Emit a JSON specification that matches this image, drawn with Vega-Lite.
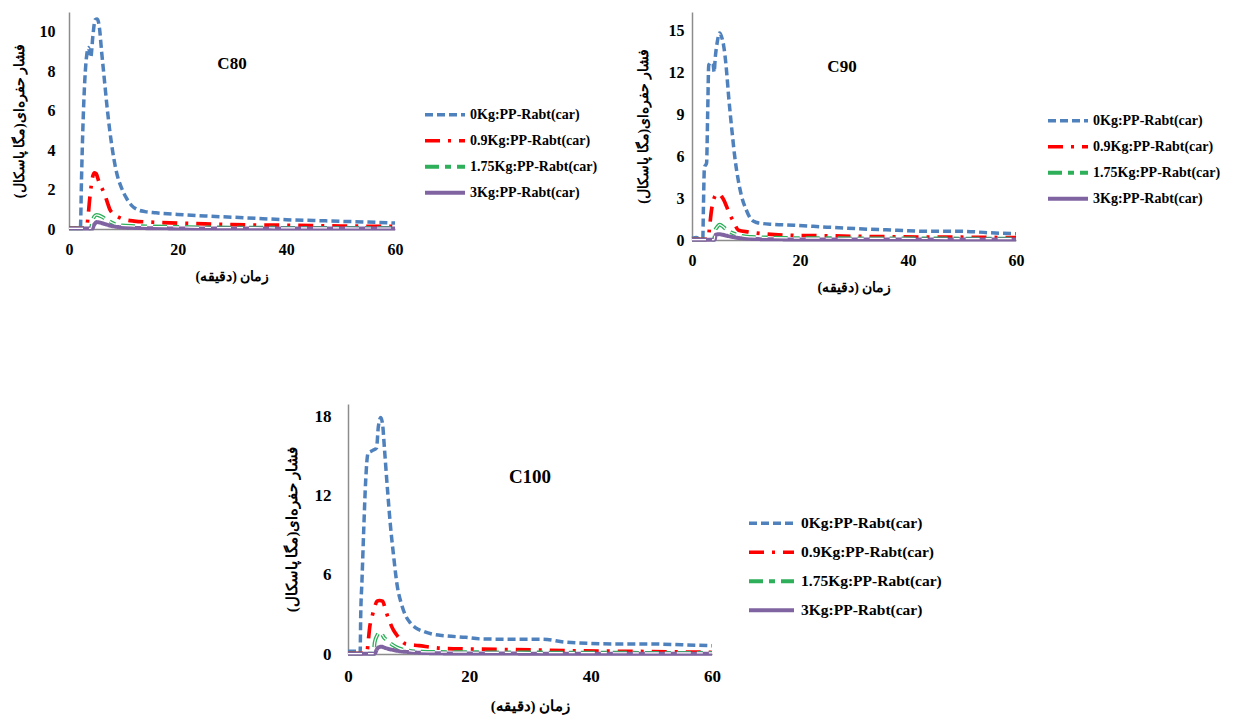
{
 "$schema": "https://vega.github.io/schema/vega-lite/v6.json",
 "background": "white",
 "padding": {"left": 12, "top": 11, "right": 5, "bottom": 5},
 "config": {
  "view": {"stroke": null},
  "axis": {"grid": false, "ticks": false, "labelFlush": false, "domainColor": "#8c8c8c", "domainWidth": 1.5, "labelFont": "Liberation Serif", "labelFontWeight": "bold", "labelFontSize": 16, "labelColor": "black", "titleFont": "Liberation Serif", "titleFontWeight": "bold", "titleFontSize": 14, "titleColor": "black"},
  "legend": {"labelFont": "Liberation Serif", "labelFontWeight": "bold", "labelColor": "black"},
  "title": {"font": "Liberation Serif", "fontWeight": "bold", "color": "black", "anchor": "middle", "frame": "group"}
 },
 "resolve": {"scale": {"color": "independent", "strokeDash": "independent", "strokeWidth": "independent"}, "legend": {"color": "independent", "strokeDash": "independent", "strokeWidth": "independent"}},
 "datasets": {
  "c80": [
   {"s":"0Kg:PP-Rabt(car)","t":0,"p":0.05},{"s":"0Kg:PP-Rabt(car)","t":2.1,"p":0.05},{"s":"0Kg:PP-Rabt(car)","t":2.3,"p":2.5},{"s":"0Kg:PP-Rabt(car)","t":2.6,"p":5.5},{"s":"0Kg:PP-Rabt(car)","t":2.9,"p":7.5},{"s":"0Kg:PP-Rabt(car)","t":3.3,"p":8.9},{"s":"0Kg:PP-Rabt(car)","t":3.6,"p":9.2},{"s":"0Kg:PP-Rabt(car)","t":4,"p":8.7},{"s":"0Kg:PP-Rabt(car)","t":4.4,"p":9.8},{"s":"0Kg:PP-Rabt(car)","t":4.8,"p":10.6},{"s":"0Kg:PP-Rabt(car)","t":5.2,"p":10.65},{"s":"0Kg:PP-Rabt(car)","t":5.6,"p":10.2},{"s":"0Kg:PP-Rabt(car)","t":6,"p":9},{"s":"0Kg:PP-Rabt(car)","t":6.5,"p":7.6},{"s":"0Kg:PP-Rabt(car)","t":7,"p":6.2},{"s":"0Kg:PP-Rabt(car)","t":7.5,"p":5},{"s":"0Kg:PP-Rabt(car)","t":8,"p":4},{"s":"0Kg:PP-Rabt(car)","t":8.5,"p":3.2},{"s":"0Kg:PP-Rabt(car)","t":9,"p":2.6},{"s":"0Kg:PP-Rabt(car)","t":9.5,"p":2.2},{"s":"0Kg:PP-Rabt(car)","t":10.5,"p":1.6},{"s":"0Kg:PP-Rabt(car)","t":11.5,"p":1.2},{"s":"0Kg:PP-Rabt(car)","t":12.5,"p":1.0},{"s":"0Kg:PP-Rabt(car)","t":14,"p":0.88},{"s":"0Kg:PP-Rabt(car)","t":16,"p":0.82},{"s":"0Kg:PP-Rabt(car)","t":20,"p":0.74},{"s":"0Kg:PP-Rabt(car)","t":25,"p":0.66},{"s":"0Kg:PP-Rabt(car)","t":30,"p":0.6},{"s":"0Kg:PP-Rabt(car)","t":35,"p":0.53},{"s":"0Kg:PP-Rabt(car)","t":40,"p":0.47},{"s":"0Kg:PP-Rabt(car)","t":45,"p":0.43},{"s":"0Kg:PP-Rabt(car)","t":50,"p":0.39},{"s":"0Kg:PP-Rabt(car)","t":55,"p":0.35},{"s":"0Kg:PP-Rabt(car)","t":60,"p":0.3},
   {"s":"0.9Kg:PP-Rabt(car)","t":0,"p":0.05},{"s":"0.9Kg:PP-Rabt(car)","t":3.2,"p":0.05},{"s":"0.9Kg:PP-Rabt(car)","t":3.5,"p":0.6},{"s":"0.9Kg:PP-Rabt(car)","t":3.8,"p":1.5},{"s":"0.9Kg:PP-Rabt(car)","t":4.1,"p":2.2},{"s":"0.9Kg:PP-Rabt(car)","t":4.4,"p":2.7},{"s":"0.9Kg:PP-Rabt(car)","t":4.7,"p":2.85},{"s":"0.9Kg:PP-Rabt(car)","t":5,"p":2.8},{"s":"0.9Kg:PP-Rabt(car)","t":5.5,"p":2.4},{"s":"0.9Kg:PP-Rabt(car)","t":6,"p":2.1},{"s":"0.9Kg:PP-Rabt(car)","t":6.5,"p":1.8},{"s":"0.9Kg:PP-Rabt(car)","t":7,"p":1.4},{"s":"0.9Kg:PP-Rabt(car)","t":7.5,"p":1.0},{"s":"0.9Kg:PP-Rabt(car)","t":8,"p":0.8},{"s":"0.9Kg:PP-Rabt(car)","t":9,"p":0.62},{"s":"0.9Kg:PP-Rabt(car)","t":10,"p":0.5},{"s":"0.9Kg:PP-Rabt(car)","t":12,"p":0.4},{"s":"0.9Kg:PP-Rabt(car)","t":15,"p":0.35},{"s":"0.9Kg:PP-Rabt(car)","t":20,"p":0.3},{"s":"0.9Kg:PP-Rabt(car)","t":25,"p":0.26},{"s":"0.9Kg:PP-Rabt(car)","t":30,"p":0.22},{"s":"0.9Kg:PP-Rabt(car)","t":40,"p":0.19},{"s":"0.9Kg:PP-Rabt(car)","t":50,"p":0.15},{"s":"0.9Kg:PP-Rabt(car)","t":60,"p":0.13},
   {"s":"1.75Kg:PP-Rabt(car)","t":0,"p":0.03},{"s":"1.75Kg:PP-Rabt(car)","t":4,"p":0.03},{"s":"1.75Kg:PP-Rabt(car)","t":4.3,"p":0.4},{"s":"1.75Kg:PP-Rabt(car)","t":4.7,"p":0.65},{"s":"1.75Kg:PP-Rabt(car)","t":5.1,"p":0.72},{"s":"1.75Kg:PP-Rabt(car)","t":5.6,"p":0.68},{"s":"1.75Kg:PP-Rabt(car)","t":6.2,"p":0.6},{"s":"1.75Kg:PP-Rabt(car)","t":7,"p":0.45},{"s":"1.75Kg:PP-Rabt(car)","t":7.7,"p":0.35},{"s":"1.75Kg:PP-Rabt(car)","t":8.5,"p":0.25},{"s":"1.75Kg:PP-Rabt(car)","t":9.5,"p":0.19},{"s":"1.75Kg:PP-Rabt(car)","t":12,"p":0.15},{"s":"1.75Kg:PP-Rabt(car)","t":15,"p":0.13},{"s":"1.75Kg:PP-Rabt(car)","t":20,"p":0.11},{"s":"1.75Kg:PP-Rabt(car)","t":25,"p":0.08},{"s":"1.75Kg:PP-Rabt(car)","t":40,"p":0.06},{"s":"1.75Kg:PP-Rabt(car)","t":60,"p":0.05},
   {"s":"3Kg:PP-Rabt(car)","t":0,"p":0.02},{"s":"3Kg:PP-Rabt(car)","t":4.3,"p":0.02},{"s":"3Kg:PP-Rabt(car)","t":4.6,"p":0.2},{"s":"3Kg:PP-Rabt(car)","t":5.1,"p":0.35},{"s":"3Kg:PP-Rabt(car)","t":5.6,"p":0.33},{"s":"3Kg:PP-Rabt(car)","t":6.5,"p":0.26},{"s":"3Kg:PP-Rabt(car)","t":7.5,"p":0.18},{"s":"3Kg:PP-Rabt(car)","t":8.5,"p":0.12},{"s":"3Kg:PP-Rabt(car)","t":10,"p":0.08},{"s":"3Kg:PP-Rabt(car)","t":13,"p":0.05},{"s":"3Kg:PP-Rabt(car)","t":20,"p":0.03},{"s":"3Kg:PP-Rabt(car)","t":60,"p":0.02}
  ],
  "c90": [
   {"s":"0Kg:PP-Rabt(car)","t":0,"p":0.12},{"s":"0Kg:PP-Rabt(car)","t":0.8,"p":0.18},{"s":"0Kg:PP-Rabt(car)","t":1.5,"p":0.05},{"s":"0Kg:PP-Rabt(car)","t":2,"p":0.05},{"s":"0Kg:PP-Rabt(car)","t":2.1,"p":2},{"s":"0Kg:PP-Rabt(car)","t":2.3,"p":5.2},{"s":"0Kg:PP-Rabt(car)","t":2.7,"p":5.5},{"s":"0Kg:PP-Rabt(car)","t":2.9,"p":9},{"s":"0Kg:PP-Rabt(car)","t":3.1,"p":12.5},{"s":"0Kg:PP-Rabt(car)","t":3.5,"p":12.7},{"s":"0Kg:PP-Rabt(car)","t":3.9,"p":12.6},{"s":"0Kg:PP-Rabt(car)","t":4.1,"p":12.0},{"s":"0Kg:PP-Rabt(car)","t":4.3,"p":13},{"s":"0Kg:PP-Rabt(car)","t":4.7,"p":14.2},{"s":"0Kg:PP-Rabt(car)","t":5.1,"p":14.8},{"s":"0Kg:PP-Rabt(car)","t":5.5,"p":14.5},{"s":"0Kg:PP-Rabt(car)","t":5.9,"p":13.8},{"s":"0Kg:PP-Rabt(car)","t":6.3,"p":12.5},{"s":"0Kg:PP-Rabt(car)","t":6.8,"p":10.2},{"s":"0Kg:PP-Rabt(car)","t":7.4,"p":7.8},{"s":"0Kg:PP-Rabt(car)","t":8,"p":5.7},{"s":"0Kg:PP-Rabt(car)","t":8.6,"p":4.2},{"s":"0Kg:PP-Rabt(car)","t":9.2,"p":3.1},{"s":"0Kg:PP-Rabt(car)","t":10,"p":2.2},{"s":"0Kg:PP-Rabt(car)","t":11,"p":1.45},{"s":"0Kg:PP-Rabt(car)","t":12,"p":1.25},{"s":"0Kg:PP-Rabt(car)","t":13,"p":1.18},{"s":"0Kg:PP-Rabt(car)","t":15,"p":1.12},{"s":"0Kg:PP-Rabt(car)","t":19,"p":1.05},{"s":"0Kg:PP-Rabt(car)","t":25,"p":0.92},{"s":"0Kg:PP-Rabt(car)","t":31,"p":0.8},{"s":"0Kg:PP-Rabt(car)","t":38,"p":0.7},{"s":"0Kg:PP-Rabt(car)","t":44,"p":0.62},{"s":"0Kg:PP-Rabt(car)","t":50,"p":0.62},{"s":"0Kg:PP-Rabt(car)","t":55,"p":0.52},{"s":"0Kg:PP-Rabt(car)","t":60,"p":0.45},
   {"s":"0.9Kg:PP-Rabt(car)","t":0,"p":0.05},{"s":"0.9Kg:PP-Rabt(car)","t":3,"p":0.05},{"s":"0.9Kg:PP-Rabt(car)","t":3.2,"p":0.7},{"s":"0.9Kg:PP-Rabt(car)","t":3.6,"p":2.1},{"s":"0.9Kg:PP-Rabt(car)","t":4.2,"p":3.1},{"s":"0.9Kg:PP-Rabt(car)","t":4.6,"p":3.27},{"s":"0.9Kg:PP-Rabt(car)","t":5,"p":3.3},{"s":"0.9Kg:PP-Rabt(car)","t":5.5,"p":3.1},{"s":"0.9Kg:PP-Rabt(car)","t":5.9,"p":2.85},{"s":"0.9Kg:PP-Rabt(car)","t":6.4,"p":2.4},{"s":"0.9Kg:PP-Rabt(car)","t":6.8,"p":2.0},{"s":"0.9Kg:PP-Rabt(car)","t":7.3,"p":1.6},{"s":"0.9Kg:PP-Rabt(car)","t":7.7,"p":1.3},{"s":"0.9Kg:PP-Rabt(car)","t":8.6,"p":0.7},{"s":"0.9Kg:PP-Rabt(car)","t":10.5,"p":0.57},{"s":"0.9Kg:PP-Rabt(car)","t":13,"p":0.45},{"s":"0.9Kg:PP-Rabt(car)","t":19,"p":0.33},{"s":"0.9Kg:PP-Rabt(car)","t":25,"p":0.3},{"s":"0.9Kg:PP-Rabt(car)","t":31,"p":0.26},{"s":"0.9Kg:PP-Rabt(car)","t":43,"p":0.21},{"s":"0.9Kg:PP-Rabt(car)","t":50,"p":0.2},{"s":"0.9Kg:PP-Rabt(car)","t":60,"p":0.17},
   {"s":"1.75Kg:PP-Rabt(car)","t":0,"p":0.03},{"s":"1.75Kg:PP-Rabt(car)","t":4.1,"p":0.03},{"s":"1.75Kg:PP-Rabt(car)","t":4.3,"p":0.7},{"s":"1.75Kg:PP-Rabt(car)","t":4.7,"p":0.95},{"s":"1.75Kg:PP-Rabt(car)","t":5.1,"p":1.1},{"s":"1.75Kg:PP-Rabt(car)","t":5.6,"p":1.0},{"s":"1.75Kg:PP-Rabt(car)","t":6.2,"p":0.8},{"s":"1.75Kg:PP-Rabt(car)","t":6.8,"p":0.65},{"s":"1.75Kg:PP-Rabt(car)","t":7.4,"p":0.52},{"s":"1.75Kg:PP-Rabt(car)","t":8.3,"p":0.38},{"s":"1.75Kg:PP-Rabt(car)","t":9.2,"p":0.29},{"s":"1.75Kg:PP-Rabt(car)","t":11,"p":0.22},{"s":"1.75Kg:PP-Rabt(car)","t":13,"p":0.19},{"s":"1.75Kg:PP-Rabt(car)","t":19,"p":0.14},{"s":"1.75Kg:PP-Rabt(car)","t":30,"p":0.12},{"s":"1.75Kg:PP-Rabt(car)","t":60,"p":0.1},
   {"s":"3Kg:PP-Rabt(car)","t":0,"p":0.02},{"s":"3Kg:PP-Rabt(car)","t":4.2,"p":0.02},{"s":"3Kg:PP-Rabt(car)","t":4.4,"p":0.38},{"s":"3Kg:PP-Rabt(car)","t":5,"p":0.42},{"s":"3Kg:PP-Rabt(car)","t":5.6,"p":0.38},{"s":"3Kg:PP-Rabt(car)","t":6.5,"p":0.3},{"s":"3Kg:PP-Rabt(car)","t":7.5,"p":0.22},{"s":"3Kg:PP-Rabt(car)","t":8.5,"p":0.15},{"s":"3Kg:PP-Rabt(car)","t":10,"p":0.1},{"s":"3Kg:PP-Rabt(car)","t":13,"p":0.06},{"s":"3Kg:PP-Rabt(car)","t":20,"p":0.04},{"s":"3Kg:PP-Rabt(car)","t":60,"p":0.03}
  ],
  "c100": [
   {"s":"0Kg:PP-Rabt(car)","t":0,"p":0.2},{"s":"0Kg:PP-Rabt(car)","t":1.5,"p":0.2},{"s":"0Kg:PP-Rabt(car)","t":1.8,"p":0.02},{"s":"0Kg:PP-Rabt(car)","t":2,"p":0.1},{"s":"0Kg:PP-Rabt(car)","t":2.1,"p":3},{"s":"0Kg:PP-Rabt(car)","t":2.3,"p":5.5},{"s":"0Kg:PP-Rabt(car)","t":2.6,"p":9.5},{"s":"0Kg:PP-Rabt(car)","t":2.9,"p":13},{"s":"0Kg:PP-Rabt(car)","t":3.3,"p":15.2},{"s":"0Kg:PP-Rabt(car)","t":4,"p":15.4},{"s":"0Kg:PP-Rabt(car)","t":4.7,"p":15.6},{"s":"0Kg:PP-Rabt(car)","t":5,"p":17.2},{"s":"0Kg:PP-Rabt(car)","t":5.4,"p":17.9},{"s":"0Kg:PP-Rabt(car)","t":5.7,"p":17.4},{"s":"0Kg:PP-Rabt(car)","t":6,"p":15.6},{"s":"0Kg:PP-Rabt(car)","t":6.5,"p":12.5},{"s":"0Kg:PP-Rabt(car)","t":7,"p":9.7},{"s":"0Kg:PP-Rabt(car)","t":7.5,"p":7.5},{"s":"0Kg:PP-Rabt(car)","t":8.1,"p":5.2},{"s":"0Kg:PP-Rabt(car)","t":8.8,"p":3.8},{"s":"0Kg:PP-Rabt(car)","t":9.5,"p":2.9},{"s":"0Kg:PP-Rabt(car)","t":10.3,"p":2.35},{"s":"0Kg:PP-Rabt(car)","t":11.1,"p":2.0},{"s":"0Kg:PP-Rabt(car)","t":12.5,"p":1.7},{"s":"0Kg:PP-Rabt(car)","t":13.9,"p":1.5},{"s":"0Kg:PP-Rabt(car)","t":16,"p":1.38},{"s":"0Kg:PP-Rabt(car)","t":19.4,"p":1.26},{"s":"0Kg:PP-Rabt(car)","t":22,"p":1.14},{"s":"0Kg:PP-Rabt(car)","t":27,"p":1.12},{"s":"0Kg:PP-Rabt(car)","t":32,"p":1.12},{"s":"0Kg:PP-Rabt(car)","t":35.8,"p":0.9},{"s":"0Kg:PP-Rabt(car)","t":40,"p":0.8},{"s":"0Kg:PP-Rabt(car)","t":44,"p":0.76},{"s":"0Kg:PP-Rabt(car)","t":50,"p":0.76},{"s":"0Kg:PP-Rabt(car)","t":55,"p":0.7},{"s":"0Kg:PP-Rabt(car)","t":60,"p":0.63},
   {"s":"0.9Kg:PP-Rabt(car)","t":0,"p":0.05},{"s":"0.9Kg:PP-Rabt(car)","t":3.1,"p":0.05},{"s":"0.9Kg:PP-Rabt(car)","t":3.3,"p":0.8},{"s":"0.9Kg:PP-Rabt(car)","t":3.6,"p":2.1},{"s":"0.9Kg:PP-Rabt(car)","t":4,"p":2.9},{"s":"0.9Kg:PP-Rabt(car)","t":4.3,"p":3.4},{"s":"0.9Kg:PP-Rabt(car)","t":4.8,"p":4.0},{"s":"0.9Kg:PP-Rabt(car)","t":5.2,"p":4.05},{"s":"0.9Kg:PP-Rabt(car)","t":5.7,"p":4.0},{"s":"0.9Kg:PP-Rabt(car)","t":6.1,"p":3.5},{"s":"0.9Kg:PP-Rabt(car)","t":6.5,"p":2.9},{"s":"0.9Kg:PP-Rabt(car)","t":7,"p":2.3},{"s":"0.9Kg:PP-Rabt(car)","t":7.5,"p":1.8},{"s":"0.9Kg:PP-Rabt(car)","t":8.1,"p":1.4},{"s":"0.9Kg:PP-Rabt(car)","t":8.8,"p":1.0},{"s":"0.9Kg:PP-Rabt(car)","t":9.5,"p":0.76},{"s":"0.9Kg:PP-Rabt(car)","t":11.7,"p":0.63},{"s":"0.9Kg:PP-Rabt(car)","t":15.5,"p":0.43},{"s":"0.9Kg:PP-Rabt(car)","t":20,"p":0.38},{"s":"0.9Kg:PP-Rabt(car)","t":27.6,"p":0.33},{"s":"0.9Kg:PP-Rabt(car)","t":36,"p":0.25},{"s":"0.9Kg:PP-Rabt(car)","t":46.8,"p":0.2},{"s":"0.9Kg:PP-Rabt(car)","t":60,"p":0.13},
   {"s":"1.75Kg:PP-Rabt(car)","t":0,"p":0.03},{"s":"1.75Kg:PP-Rabt(car)","t":4.2,"p":0.03},{"s":"1.75Kg:PP-Rabt(car)","t":4.4,"p":0.88},{"s":"1.75Kg:PP-Rabt(car)","t":4.8,"p":1.4},{"s":"1.75Kg:PP-Rabt(car)","t":5.2,"p":1.64},{"s":"1.75Kg:PP-Rabt(car)","t":5.6,"p":1.5},{"s":"1.75Kg:PP-Rabt(car)","t":5.9,"p":1.26},{"s":"1.75Kg:PP-Rabt(car)","t":6.4,"p":1.05},{"s":"1.75Kg:PP-Rabt(car)","t":6.8,"p":0.88},{"s":"1.75Kg:PP-Rabt(car)","t":7.6,"p":0.62},{"s":"1.75Kg:PP-Rabt(car)","t":8.4,"p":0.43},{"s":"1.75Kg:PP-Rabt(car)","t":9.5,"p":0.3},{"s":"1.75Kg:PP-Rabt(car)","t":11.1,"p":0.2},{"s":"1.75Kg:PP-Rabt(car)","t":15,"p":0.15},{"s":"1.75Kg:PP-Rabt(car)","t":22,"p":0.13},{"s":"1.75Kg:PP-Rabt(car)","t":40,"p":0.1},{"s":"1.75Kg:PP-Rabt(car)","t":60,"p":0.08},
   {"s":"3Kg:PP-Rabt(car)","t":0,"p":0.02},{"s":"3Kg:PP-Rabt(car)","t":4.4,"p":0.02},{"s":"3Kg:PP-Rabt(car)","t":4.7,"p":0.3},{"s":"3Kg:PP-Rabt(car)","t":5,"p":0.5},{"s":"3Kg:PP-Rabt(car)","t":5.5,"p":0.55},{"s":"3Kg:PP-Rabt(car)","t":6.2,"p":0.45},{"s":"3Kg:PP-Rabt(car)","t":7.5,"p":0.3},{"s":"3Kg:PP-Rabt(car)","t":8.7,"p":0.2},{"s":"3Kg:PP-Rabt(car)","t":10,"p":0.15},{"s":"3Kg:PP-Rabt(car)","t":12.5,"p":0.08},{"s":"3Kg:PP-Rabt(car)","t":15,"p":0.05},{"s":"3Kg:PP-Rabt(car)","t":25,"p":0.03},{"s":"3Kg:PP-Rabt(car)","t":60,"p":0.02}
  ]
 },
 "spacing": 110,
 "center": true,
 "vconcat": [
  {
   "spacing": 38,
   "resolve": {"scale": {"color": "independent", "strokeDash": "independent", "strokeWidth": "independent"}, "legend": {"color": "independent", "strokeDash": "independent", "strokeWidth": "independent"}},
   "hconcat": [
    {
     "data": {"name": "c80"},
     "width": 326, "height": 217,
     "title": {"text": "C80", "offset": -61, "fontSize": 17},
     "encoding": {
      "x": {"field": "t", "type": "quantitative", "scale": {"domain": [0, 60], "nice": false}, "axis": {"values": [0, 20, 40, 60], "title": "زمان (دقیقه)", "labelPadding": 12, "titlePadding": 12}},
      "y": {"field": "p", "type": "quantitative", "scale": {"domain": [0, 11], "nice": false}, "axis": {"values": [0, 2, 4, 6, 8, 10], "title": "فشار حفره‌ای(مگا پاسکال)", "labelPadding": 14, "titlePadding": 13}}
     },
     "layer": [
      {"mark": {"type": "line", "interpolate": "monotone"},
       "encoding": {
        "color": {"field": "s", "type": "nominal", "sort": null, "scale": {"domain": ["0Kg:PP-Rabt(car)", "0.9Kg:PP-Rabt(car)", "1.75Kg:PP-Rabt(car)", "3Kg:PP-Rabt(car)"], "range": ["#4F81BD", "#FF0000", "#2EAF5A", "#8064A2"]},
         "legend": {"orient": "none", "legendX": 354, "legendY": 90, "title": null, "symbolType": "stroke", "symbolSize": 1600, "labelFontSize": 14, "rowPadding": 0, "clipHeight": 25.5, "labelOffset": 3}},
        "strokeDash": {"field": "s", "type": "nominal", "sort": null, "scale": {"domain": ["0Kg:PP-Rabt(car)", "0.9Kg:PP-Rabt(car)", "1.75Kg:PP-Rabt(car)", "3Kg:PP-Rabt(car)"], "range": [[8, 4], [15, 8, 3, 8], [14, 6, 6, 6], [1, 0]]}},
        "strokeWidth": {"field": "s", "type": "nominal", "sort": null, "scale": {"domain": ["0Kg:PP-Rabt(car)", "0.9Kg:PP-Rabt(car)", "1.75Kg:PP-Rabt(car)", "3Kg:PP-Rabt(car)"], "range": [3.5, 4, 3.5, 2.2]}}
       }},
      {"transform": [{"filter": "datum.s == '1.75Kg:PP-Rabt(car)'"}],
       "mark": {"type": "line", "interpolate": "monotone", "color": "white", "strokeWidth": 1.2, "strokeDash": [14, 6, 6, 6]},
       "encoding": {}}
     ]
    },
    {
     "data": {"name": "c90"},
     "width": 324, "height": 228,
     "title": {"text": "C90", "offset": -64, "fontSize": 17, "dx": -12},
     "encoding": {
      "x": {"field": "t", "type": "quantitative", "scale": {"domain": [0, 60], "nice": false}, "axis": {"values": [0, 20, 40, 60], "title": "زمان (دقیقه)", "labelPadding": 12, "titlePadding": 12}},
      "y": {"field": "p", "type": "quantitative", "scale": {"domain": [0, 16.3], "nice": false}, "axis": {"values": [0, 3, 6, 9, 12, 15], "title": "فشار حفره‌ای(مگا پاسکال)", "labelPadding": 8, "titlePadding": 18}}
     },
     "layer": [
      {"mark": {"type": "line", "interpolate": "monotone"},
       "encoding": {
        "color": {"field": "s", "type": "nominal", "sort": null, "scale": {"domain": ["0Kg:PP-Rabt(car)", "0.9Kg:PP-Rabt(car)", "1.75Kg:PP-Rabt(car)", "3Kg:PP-Rabt(car)"], "range": ["#4F81BD", "#FF0000", "#2EAF5A", "#8064A2"]},
         "legend": {"orient": "none", "legendX": 354, "legendY": 96, "title": null, "symbolType": "stroke", "symbolSize": 1600, "labelFontSize": 14, "rowPadding": 0, "clipHeight": 25.5, "labelOffset": 3}},
        "strokeDash": {"field": "s", "type": "nominal", "sort": null, "scale": {"domain": ["0Kg:PP-Rabt(car)", "0.9Kg:PP-Rabt(car)", "1.75Kg:PP-Rabt(car)", "3Kg:PP-Rabt(car)"], "range": [[8, 4], [15, 8, 3, 8], [14, 6, 6, 6], [1, 0]]}},
        "strokeWidth": {"field": "s", "type": "nominal", "sort": null, "scale": {"domain": ["0Kg:PP-Rabt(car)", "0.9Kg:PP-Rabt(car)", "1.75Kg:PP-Rabt(car)", "3Kg:PP-Rabt(car)"], "range": [3.5, 4, 3.5, 2.2]}}
       }},
      {"transform": [{"filter": "datum.s == '1.75Kg:PP-Rabt(car)'"}],
       "mark": {"type": "line", "interpolate": "monotone", "color": "white", "strokeWidth": 1.2, "strokeDash": [14, 6, 6, 6]},
       "encoding": {}}
     ]
    }
   ]
  },
  {
   "data": {"name": "c100"},
   "width": 364, "height": 250,
   "title": {"text": "C100", "offset": -83, "fontSize": 19},
   "encoding": {
    "x": {"field": "t", "type": "quantitative", "scale": {"domain": [0, 60], "nice": false}, "axis": {"values": [0, 20, 40, 60], "title": "زمان (دقیقه)", "labelPadding": 14, "titlePadding": 14, "labelFontSize": 17, "titleFontSize": 15}},
    "y": {"field": "p", "type": "quantitative", "scale": {"domain": [0, 18.93], "nice": false}, "axis": {"values": [0, 6, 12, 18], "title": "فشار حفره‌ای(مگا پاسکال)", "labelPadding": 17, "titlePadding": 15, "labelFontSize": 17, "titleFontSize": 15}}
   },
   "layer": [
    {"mark": {"type": "line", "interpolate": "monotone"},
     "encoding": {
      "color": {"field": "s", "type": "nominal", "sort": null, "scale": {"domain": ["0Kg:PP-Rabt(car)", "0.9Kg:PP-Rabt(car)", "1.75Kg:PP-Rabt(car)", "3Kg:PP-Rabt(car)"], "range": ["#4F81BD", "#FF0000", "#2EAF5A", "#8064A2"]},
       "legend": {"orient": "none", "legendX": 399, "legendY": 105, "title": null, "symbolType": "stroke", "symbolSize": 2025, "labelFontSize": 15.5, "rowPadding": 0, "clipHeight": 28.5, "labelOffset": 5}},
      "strokeDash": {"field": "s", "type": "nominal", "sort": null, "scale": {"domain": ["0Kg:PP-Rabt(car)", "0.9Kg:PP-Rabt(car)", "1.75Kg:PP-Rabt(car)", "3Kg:PP-Rabt(car)"], "range": [[8, 4], [15, 8, 3, 8], [14, 6, 6, 6], [1, 0]]}},
      "strokeWidth": {"field": "s", "type": "nominal", "sort": null, "scale": {"domain": ["0Kg:PP-Rabt(car)", "0.9Kg:PP-Rabt(car)", "1.75Kg:PP-Rabt(car)", "3Kg:PP-Rabt(car)"], "range": [3.5, 4, 3.5, 2.2]}}
     }},
    {"transform": [{"filter": "datum.s == '1.75Kg:PP-Rabt(car)'"}],
     "mark": {"type": "line", "interpolate": "monotone", "color": "white", "strokeWidth": 1.2, "strokeDash": [14, 6, 6, 6]},
     "encoding": {}}
   ]
  }
 ]
}
